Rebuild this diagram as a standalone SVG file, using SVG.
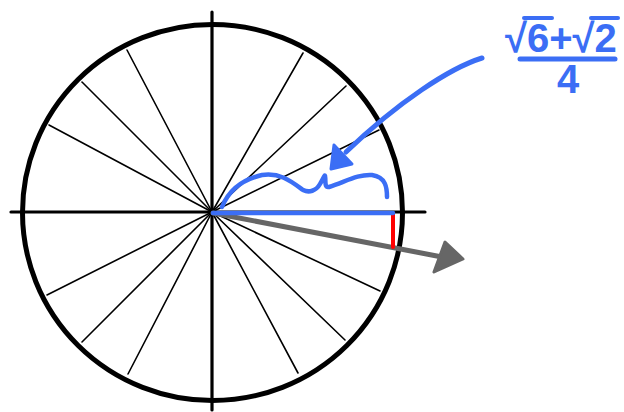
<svg xmlns="http://www.w3.org/2000/svg" width="624" height="412" viewBox="0 0 624 412">
<style>
.spoke{stroke:#000;stroke-width:1.6;fill:none;stroke-linecap:round}
.axis{stroke:#000;stroke-width:3.2;fill:none;stroke-linecap:round}
.blue{stroke:#3b6ef5;fill:none;stroke-linecap:round;stroke-linejoin:round}
.bluefill{fill:#3b6ef5;stroke:#3b6ef5;stroke-linejoin:round}
.lbl{font-family:"Liberation Sans",Arial,sans-serif;font-weight:bold;fill:#3b6ef5}
</style>
<rect width="624" height="412" fill="#fff"/>
<g id="spokes">
<line class="spoke" x1="212" y1="212" x2="127" y2="50"/>
<line class="spoke" x1="212" y1="212" x2="82" y2="82"/>
<line class="spoke" x1="212" y1="212" x2="49" y2="125"/>
<line class="spoke" x1="212" y1="212" x2="303" y2="53"/>
<line class="spoke" x1="212" y1="212" x2="346" y2="86"/>
<line class="spoke" x1="212" y1="212" x2="379" y2="130"/>
<line class="spoke" x1="212" y1="212" x2="380" y2="291"/>
<line class="spoke" x1="212" y1="212" x2="345" y2="340"/>
<line class="spoke" x1="212" y1="212" x2="298" y2="373"/>
<line class="spoke" x1="212" y1="212" x2="47" y2="295"/>
<line class="spoke" x1="212" y1="212" x2="82" y2="342"/>
<line class="spoke" x1="212" y1="212" x2="128" y2="374"/>
</g>
<g id="axes">
<line class="axis" x1="212" y1="12" x2="212" y2="410"/>
<line class="axis" x1="11" y1="212" x2="425" y2="212"/>
</g>
<g id="circle">
<ellipse cx="212.5" cy="212.5" rx="190" ry="188" fill="none" stroke="#000" stroke-width="5"/>
</g>
<g id="connectors">
<line x1="213" y1="213" x2="442" y2="257" stroke="#666" stroke-width="5" stroke-linecap="round"/>
<polygon points="463,259 445,242 434,272" fill="#666" stroke="#666" stroke-width="3" stroke-linejoin="round"/>
<line x1="393" y1="214" x2="393" y2="247" stroke="#f00" stroke-width="4" stroke-linecap="round"/>
<line class="blue" x1="213" y1="213" x2="393" y2="213" stroke-width="4.5"/>
<path class="blue" stroke-width="4.5" d="M222,207 C228,192 240,180 262,175 C280,172 292,182 303,190 C309,193 316,191 320,184 C323,179 325,174 325,176 C326,181 324,188 329,187 C345,182 358,174 372,175 C386,177 387,188 387,197"/>
<path class="blue" stroke-width="5" d="M482,58 C450,68 398,102 346,152"/>
<polygon class="bluefill" stroke-width="3" points="331,169 334,145 352,164"/>
</g>
<g id="label">
<text class="lbl" font-size="40" x="505" y="52">√6+√2</text>
<line class="blue" x1="524" y1="18" x2="552" y2="18" stroke-width="4"/>
<line class="blue" x1="591" y1="18" x2="618" y2="18" stroke-width="4"/>
<line class="blue" x1="520" y1="59" x2="615" y2="59" stroke-width="5"/>
<text class="lbl" font-size="40" x="557" y="93">4</text>
</g>
</svg>
